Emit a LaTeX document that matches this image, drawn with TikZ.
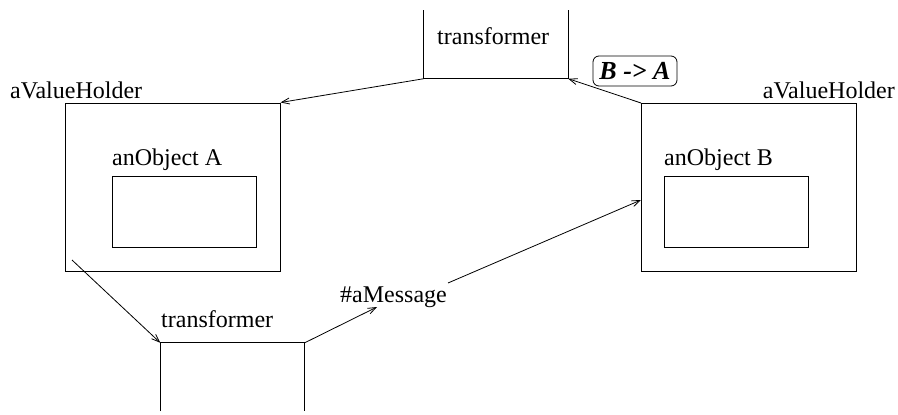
\documentclass[tikz,border=0pt]{standalone}
\usepackage{fontspec}
\setmainfont{Liberation Serif}
\usetikzlibrary{arrows.meta}

\begin{document}
\begin{tikzpicture}[x=1pt,y=-1pt,
  holder/.style={draw,line width=1pt,minimum width=215pt,minimum height=168pt,inner sep=0pt},
  object/.style={draw,line width=1pt,minimum width=144pt,minimum height=71pt,inner sep=0pt},
  trans/.style={minimum width=144pt,minimum height=68pt,inner sep=0pt},
  lbl/.style={inner sep=0pt},
  msgarrow/.style={-{Straight Barb[length=8pt,width=6pt]},line width=0.8pt},
  every node/.style={font=\fontsize{24}{28}\selectfont}
]
\useasboundingbox (0,0) rectangle (898,415);

\node[holder] (holdA) at (172.5,187) {};
\node[object] (objA) at (184,211.5) {};
\node[holder] (holdB) at (749,187.5) {};
\node[object] (objB) at (736.5,211.5) {};
\node[trans] (transTop) at (496,44.5) {};
\node[trans] (transBot) at (232.5,377) {};

\node[lbl,anchor=base west] (holdAlbl) at (10,98) {aValueHolder};
\node[lbl,anchor=base east] (holdBlbl) at (895,98) {aValueHolder};
\node[lbl,anchor=base west] (objAlbl) at (112,165) {anObject A};
\node[lbl,anchor=base west] (objBlbl) at (664,165) {anObject B};
\node[lbl,anchor=base west] (transToplbl) at (437,45) {transformer};
\node[lbl,anchor=base west] (transBotlbl) at (161,327) {transformer};
\node[lbl,anchor=base west] (msg) at (340,302) {\#aMessage};
\node[draw,rounded corners=6pt,line width=0.8pt,minimum width=84pt,minimum height=30pt,inner sep=0pt,
  font=\fontsize{26}{30}\selectfont\bfseries\itshape] (conv) at (635,71) {B -> A};

% open sides of the transformers
\draw[line width=1pt] (transTop.north west) -- (transTop.south west) -- (transTop.south east) -- (transTop.north east);
\draw[line width=1pt] (transBot.south west) -- (transBot.north west) -- (transBot.north east) -- (transBot.south east);

\coordinate (start) at (72,260);
\coordinate (msgin) at (377,307);
\coordinate (msgout) at (448,283);
\coordinate (objBin) at (holdB.west |- 0,200);

\draw[msgarrow] (holdB.north west) -- (transTop.south east);
\draw[msgarrow] (transTop.south west) -- (holdA.north east);
\draw[msgarrow] (start) -- (transBot.north west);
\draw[msgarrow] (transBot.north east) -- (msgin);
\draw[msgarrow] (msgout) -- (objBin);
\end{tikzpicture}
\end{document}
